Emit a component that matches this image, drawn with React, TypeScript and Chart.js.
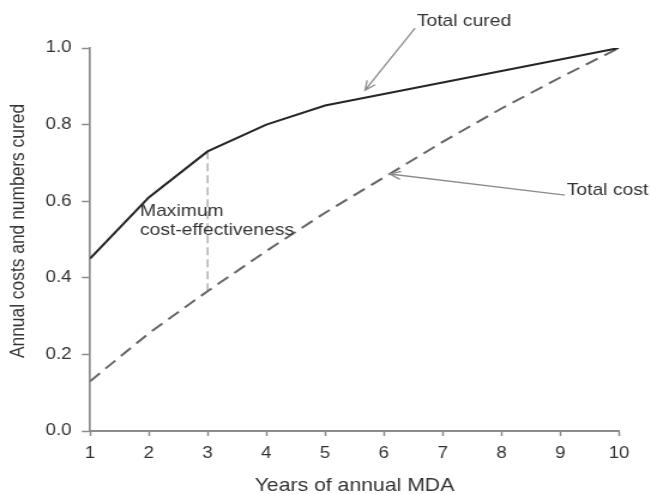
import React, { useEffect, useRef } from 'react';
import { Chart, registerables } from 'chart.js';

Chart.register(...registerables);

// ---- data ----
const years = [1, 2, 3, 4, 5, 6, 7, 8, 9, 10];
const totalCured = [0.45, 0.61, 0.73, 0.8, 0.85, 0.88, 0.91, 0.94, 0.97, 1.0];
const totalCost = [0.13, 0.255, 0.365, 0.47, 0.57, 0.662, 0.755, 0.842, 0.923, 1.0];
const optimalYear = 3;
const xTitle = 'Years of annual MDA';
const yTitle = 'Annual costs and numbers cured';

// ---- annotations (data coordinates) ----
const curedLabel = { text: 'Total cured', x: 6.56, y: 1.07 };
const curedArrow = { from: [6.53, 1.052], to: [5.68, 0.89] };
const costLabel = { text: 'Total cost', x: 9.11, y: 0.629 };
const costArrow = { from: [9.08, 0.616], to: [6.1, 0.671] };
const maxLabelLines = ['Maximum', 'cost-effectiveness'];
const maxLabelPos = { x: 1.85, y: [0.572, 0.524] };

// ---- layout ----
const CANVAS_W = 543;
const CANVAS_H = 494;
const DISPLAY_W = 651;
const FONT = '"Liberation Sans", Arial, Helvetica, sans-serif';
const AXIS_COLOR = '#8c8c8c';
const TEXT_COLOR = '#333333';

const annotationPlugin = {
  id: 'annotations',
  afterDatasetsDraw(chart: any) {
    const { ctx, scales } = chart;
    const xs = scales.x;
    const ys = scales.y;
    const px = (v: number) => xs.getPixelForValue(v);
    const py = (v: number) => ys.getPixelForValue(v);
    ctx.save();
    ctx.fillStyle = TEXT_COLOR;
    ctx.font = `16.1px ${FONT}`;
    ctx.textBaseline = 'middle';
    ctx.textAlign = 'left';
    ctx.fillText(curedLabel.text, px(curedLabel.x), py(curedLabel.y));
    ctx.fillText(costLabel.text, px(costLabel.x), py(costLabel.y));
    maxLabelLines.forEach((t, i) => ctx.fillText(t, px(maxLabelPos.x), py(maxLabelPos.y[i])));

    const arrow = (a: { from: number[]; to: number[] }) => {
      const fx = px(a.from[0]);
      const fy = py(a.from[1]);
      const tx = px(a.to[0]);
      const ty = py(a.to[1]);
      const ang = Math.atan2(fy - ty, fx - tx);
      const len = 10;
      const spread = 0.42;
      ctx.strokeStyle = AXIS_COLOR;
      ctx.lineWidth = 1.3;
      ctx.beginPath();
      ctx.moveTo(fx, fy);
      ctx.lineTo(tx, ty);
      ctx.moveTo(tx + len * Math.cos(ang + spread), ty + len * Math.sin(ang + spread));
      ctx.lineTo(tx, ty);
      ctx.lineTo(tx + len * Math.cos(ang - spread), ty + len * Math.sin(ang - spread));
      ctx.stroke();
    };
    arrow(curedArrow);
    arrow(costArrow);

    // y axis title
    const area = chart.chartArea;
    ctx.save();
    ctx.translate(15.4, (area.top + area.bottom) / 2 - 8.5);
    ctx.rotate(-Math.PI / 2);
    ctx.font = `17.4px ${FONT}`;
    ctx.textAlign = 'center';
    ctx.textBaseline = 'middle';
    ctx.fillStyle = TEXT_COLOR;
    ctx.fillText(yTitle, 0, 0);
    ctx.restore();
    ctx.restore();
  },
};

export default function App() {
  const ref = useRef<HTMLCanvasElement | null>(null);

  useEffect(() => {
    if (!ref.current) return;
    const optIdx = years.indexOf(optimalYear);
    const chart = new Chart(ref.current, {
      type: 'line',
      data: {
        datasets: [
          {
            label: 'Total cured',
            data: years.map((x, i) => ({ x, y: totalCured[i] })),
            borderColor: '#262626',
            borderWidth: 2.1,
            pointRadius: 0,
            tension: 0,
            fill: false,
          },
          {
            label: 'Total cost',
            data: years.map((x, i) => ({ x, y: totalCost[i] })),
            borderColor: '#666666',
            borderWidth: 2,
            borderDash: [11.5, 6.5],
            pointRadius: 0,
            tension: 0,
            fill: false,
          },
          {
            label: 'Maximum cost-effectiveness',
            data: [
              { x: optimalYear, y: totalCost[optIdx] },
              { x: optimalYear, y: totalCured[optIdx] },
            ],
            borderColor: '#b0b0b0',
            borderWidth: 1.5,
            borderDash: [8, 4],
            pointRadius: 0,
            fill: false,
          },
        ],
      },
      options: {
        animation: false,
        responsive: false,
        devicePixelRatio: 1,
        events: [],
        layout: { padding: { left: 0, right: 26.7, top: 48, bottom: 0 } },
        plugins: {
          legend: { display: false },
          tooltip: { enabled: false },
          title: { display: false },
        },
        scales: {
          x: {
            type: 'linear',
            min: 1,
            max: 10,
            afterFit: (s: any) => {
              s.height = 63;
            },
            border: { display: true, color: AXIS_COLOR, width: 2 },
            grid: {
              drawOnChartArea: false,
              drawTicks: true,
              tickLength: 5,
              color: AXIS_COLOR,
              tickColor: AXIS_COLOR,
              tickWidth: 1.5,
            },
            ticks: {
              stepSize: 1,
              padding: 8,
              color: TEXT_COLOR,
              font: { family: FONT, size: 15.6 },
              maxRotation: 0,
              autoSkip: false,
            },
            title: {
              display: true,
              text: xTitle,
              color: TEXT_COLOR,
              font: { family: FONT, size: 17.7 },
              padding: { top: 0, bottom: -3 },
            },
          },
          y: {
            type: 'linear',
            min: 0,
            max: 1,
            afterFit: (s: any) => {
              s.width = 75.07;
            },
            border: { display: true, color: AXIS_COLOR, width: 1.7 },
            grid: {
              drawOnChartArea: false,
              drawTicks: true,
              tickLength: 6.9,
              color: AXIS_COLOR,
              tickColor: AXIS_COLOR,
              tickWidth: 1.5,
            },
            ticks: {
              stepSize: 0.2,
              padding: 8.4,
              color: TEXT_COLOR,
              font: { family: FONT, size: 15.6 },
              callback: (v: any) => Number(v).toFixed(1),
            },
          },
        },
      },
      plugins: [annotationPlugin],
    } as any);
    return () => chart.destroy();
  }, []);

  return (
    <div style={{ position: 'absolute', left: 0, top: 0, background: '#fff' }}>
      <canvas
        ref={ref}
        width={CANVAS_W}
        height={CANVAS_H}
        style={{ width: `${DISPLAY_W}px`, height: `${CANVAS_H}px`, display: 'block' }}
      />
    </div>
  );
}
